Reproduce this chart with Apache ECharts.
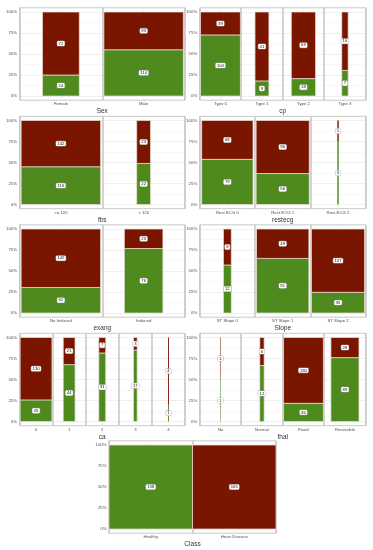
<!DOCTYPE html>
<html>
<head>
<meta charset="utf-8">
<script src="https://cdn.jsdelivr.net/npm/echarts@6/dist/echarts.min.js"></script>
<style>html,body{margin:0;padding:0;background:#fff}#c{width:373px;height:550px}</style>
</head>
<body>
<div id="c"></div>
<script>
// ---- data ----
const sexCats = ['Female', 'Male'];
const sexHealthy = [24, 114];
const sexDisease = [72, 93];

const cpCats = ['Type 0', 'Type 1', 'Type 2', 'Type 3'];
const cpHealthy = [104, 9, 18, 7];
const cpDisease = [39, 41, 69, 16];

const fbsCats = ['<= 120', '> 120'];
const fbsHealthy = [116, 22];
const fbsDisease = [142, 23];

const restecgCats = ['Rest ECG 0', 'Rest ECG 1', 'Rest ECG 2'];
const restecgHealthy = [79, 56, 3];
const restecgDisease = [68, 96, 1];

const exangCats = ['No Induced', 'Induced'];
const exangHealthy = [62, 76];
const exangDisease = [142, 23];

const slopeCats = ['ST Slope 0', 'ST Slope 1', 'ST Slope 2'];
const slopeHealthy = [12, 91, 35];
const slopeDisease = [9, 49, 107];

const caCats = ['0', '1', '2', '3', '4'];
const caHealthy = [45, 44, 31, 17, 1];
const caDisease = [130, 21, 7, 3, 4];

const thalCats = ['No', 'Normal', 'Fixed', 'Reversible'];
const thalHealthy = [1, 12, 36, 89];
const thalDisease = [1, 6, 130, 28];

const classCats = ['Healthy', 'Heart Disease'];
const classHealthy = [138, 0];
const classDisease = [0, 165];

const yTickValues = [0, 0.25, 0.5, 0.75, 1];
const yGridValues = [0, 0.125, 0.25, 0.375, 0.5, 0.625, 0.75, 0.875, 1];

// ---- layout ----
const GREEN = '#4f8a1f';
const RED = '#7a1600';
const FONT = 'Liberation Sans, Arial, sans-serif';
const colLeft = {left: 19.5, width: 165.5};
const colRight = {left: 199.7, width: 166};
const colMid = {left: 109, width: 167};
const rowY100 = [12, 120.5, 229, 337.5, 445];
const PH = 84; // 0..1 span in px

const panels = [
  {name: 'Sex', cats: sexCats, h: sexHealthy, d: sexDisease, col: colLeft, row: 0},
  {name: 'cp', cats: cpCats, h: cpHealthy, d: cpDisease, col: colRight, row: 0},
  {name: 'fbs', cats: fbsCats, h: fbsHealthy, d: fbsDisease, col: colLeft, row: 1},
  {name: 'restecg', cats: restecgCats, h: restecgHealthy, d: restecgDisease, col: colRight, row: 1},
  {name: 'exang', cats: exangCats, h: exangHealthy, d: exangDisease, col: colLeft, row: 2},
  {name: 'Slope', cats: slopeCats, h: slopeHealthy, d: slopeDisease, col: colRight, row: 2},
  {name: 'ca', cats: caCats, h: caHealthy, d: caDisease, col: colLeft, row: 3},
  {name: 'thal', cats: thalCats, h: thalHealthy, d: thalDisease, col: colRight, row: 3},
  {name: 'Class', cats: classCats, h: classHealthy, d: classDisease, col: colMid, row: 4, full: true}
];

const grids = [], xAxes = [], yAxes = [], series = [];

function labelEl(x, y, txt) {
  return {
    type: 'text', x: x, y: y, z2: 10,
    style: {
      text: String(txt), fontSize: 4.2, fontFamily: FONT, fill: '#111',
      align: 'center', verticalAlign: 'middle',
      backgroundColor: '#fff', borderColor: '#9a9a9a', borderWidth: 0.4,
      padding: [0.6, 1.4, 0.3, 1.4], borderRadius: 1
    }
  };
}

panels.forEach((p, gi) => {
  const totals = p.cats.map((c, i) => p.h[i] + p.d[i]);
  const maxT = Math.max.apply(null, totals);
  grids.push({
    left: p.col.left, width: p.col.width,
    top: rowY100[p.row] - 0.05 * PH, height: PH * 1.1,
    show: true, backgroundColor: '#fff', borderColor: '#c9c9c9', borderWidth: 1
  });
  xAxes.push({
    type: 'category', gridIndex: gi, data: p.cats, boundaryGap: true,
    name: p.name, nameLocation: 'middle', nameGap: 8,
    nameTextStyle: {fontSize: 6.5, color: '#333', fontFamily: FONT},
    axisLine: {show: false}, axisTick: {show: false},
    axisLabel: {fontSize: 4.3, color: '#4d4d4d', margin: 2, fontFamily: FONT, interval: 0},
    splitLine: {show: true, lineStyle: {color: '#c9c9c9', width: 1.6}}
  });
  yAxes.push({
    type: 'value', gridIndex: gi, min: -0.05, max: 1.05,
    axisLine: {show: false},
    axisTick: {show: false, customValues: yGridValues},
    axisLabel: {customValues: yTickValues, fontSize: 4.3, color: '#4d4d4d', margin: 2.5, fontFamily: FONT,
      formatter: v => Math.round(v * 100) + '%'},
    splitLine: {show: true, lineStyle: {color: ['#e4e4e4', '#f1f1f1', '#e4e4e4', '#f1f1f1', '#e4e4e4', '#f1f1f1', '#e4e4e4', '#f1f1f1', '#e4e4e4'], width: 0.6}}
  });
  series.push({
    type: 'custom', xAxisIndex: gi, yAxisIndex: gi, clip: false,
    data: p.cats.map((c, i) => [i, p.h[i], p.d[i]]),
    renderItem: function (params, api) {
      const i = api.value(0), h = api.value(1), d = api.value(2);
      const t = h + d;
      const band = api.size([1, 0])[0];
      const w = p.full ? band : band * 0.96 * t / maxT;
      const top = api.coord([i, 1.05]);
      const bot = api.coord([i, -0.05]);
      const cx = top[0];
      const children = [{
        type: 'line', shape: {x1: cx, y1: top[1], x2: cx, y2: bot[1]},
        style: {stroke: '#ebebeb', lineWidth: 0.6}
      }];
      const fh = h / t;
      const p0 = api.coord([i, 0]), pH = api.coord([i, fh]), p1 = api.coord([i, 1]);
      if (h > 0) children.push({type: 'rect', shape: {x: cx - w / 2, y: pH[1], width: w, height: p0[1] - pH[1]},
        style: {fill: GREEN, stroke: 'rgba(235,225,215,0.9)', lineWidth: w > 2 ? 0.8 : 0}});
      if (d > 0) children.push({type: 'rect', shape: {x: cx - w / 2, y: p1[1], width: w, height: pH[1] - p1[1]},
        style: {fill: RED, stroke: 'rgba(235,225,215,0.9)', lineWidth: w > 2 ? 0.8 : 0}});
      if (h > 0) children.push(labelEl(cx, api.coord([i, fh / 2])[1], h));
      if (d > 0) children.push(labelEl(cx, api.coord([i, (fh + 1) / 2])[1], d));
      return {type: 'group', children: children};
    }
  });
});

const chart = echarts.init(document.getElementById('c'), null, {renderer: 'canvas'});
chart.setOption({
  animation: false,
  backgroundColor: '#fff',
  textStyle: {fontFamily: FONT},
  grid: grids, xAxis: xAxes, yAxis: yAxes, series: series
});
</script>
</body>
</html>
